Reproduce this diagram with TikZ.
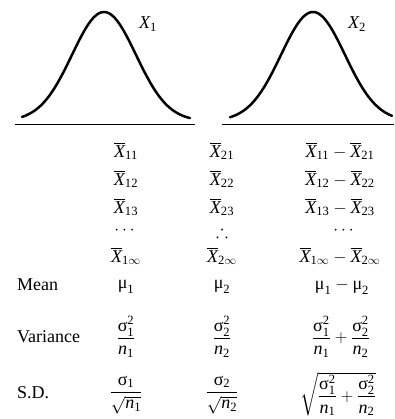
\documentclass[tikz,border=0pt]{standalone}
\usepackage{amsmath,amssymb}
\usepackage{fontspec}
\setmainfont{Liberation Serif}
\newcommand\vX{\text{\itshape X}}
\newcommand\vn{\text{\itshape n}}
\newcommand\mmu{\text{μ}}
\newcommand\ssig{\text{σ}}
\newcommand\xb[1]{\overline{\vX}_{\text{#1}}}
\newcommand\xbi[1]{\overline{\vX}_{\text{#1}\infty}}
\tikzset{
  curve/.style={line width=2.5pt, line cap=round},
  axis/.style={line width=1pt},
  txt/.style={inner sep=0pt, font=\fontsize{18}{21}\selectfont},
  lab/.style={txt, anchor=west},
  cell/.style={txt, anchor=center},
}
\begin{document}
\begin{tikzpicture}[x=1pt,y=-1pt]
\useasboundingbox (0,0) rectangle (394,419);
% curves
\draw[curve] plot[domain=22:190, samples=120, smooth] (\x, {121 - 109*exp(-((\x-104)^2)/2048)});
\draw[curve] plot[domain=230:392, samples=120, smooth] (\x, {121 - 109*exp(-((\x-313)^2)/2048)});
\coordinate (b1l) at (15,125); \coordinate (b1r) at (195,125);
\coordinate (b2l) at (222,125); \coordinate (b2r) at (394,125);
\draw[axis] (b1l) -- (b1r);
\draw[axis] (b2l) -- (b2r);
\node[txt] (lx1) at (148,24) {$\vX_{\text{1}}$};
\node[txt] (lx2) at (357,24) {$\vX_{\text{2}}$};
% sample means
\node[cell] (a1) at (126,151) {$\xb{11}$};
\node[cell] (b1) at (222,151) {$\xb{21}$};
\node[cell] (c1) at (340,151) {$\xb{11}-\xb{21}$};
\node[cell] (a2) at (126,179) {$\xb{12}$};
\node[cell] (b2) at (222,179) {$\xb{22}$};
\node[cell] (c2) at (340,179) {$\xb{12}-\xb{22}$};
\node[cell] (a3) at (126,207) {$\xb{13}$};
\node[cell] (b3) at (222,207) {$\xb{23}$};
\node[cell] (c3) at (340,207) {$\xb{13}-\xb{23}$};
\node[cell] (a4) at (126,231) {$\cdots$};
\node[cell] (b4) at (222,231) {$\therefore$};
\node[cell] (c4) at (345,231) {$\cdots$};
\node[cell] (a5) at (126,256) {$\xbi{1}$};
\node[cell] (b5) at (222,256) {$\xbi{2}$};
\node[cell] (c5) at (340,256) {$\xbi{1}-\xbi{2}$};
% mean
\node[lab] (lm) at (17,285) {Mean};
\node[cell] (m1) at (126,287) {$\mmu_{\text{1}}$};
\node[cell] (m2) at (222,287) {$\mmu_{\text{2}}$};
\node[cell] (m3) at (342,287) {$\mmu_{\text{1}}-\mmu_{\text{2}}$};
% variance
\node[lab] (lv) at (17,337) {Variance};
\node[cell] (v1) at (126,337) {$\dfrac{\ssig_{\text{1}}^{\text{2}}}{\vn_{\text{1}}}$};
\node[cell] (v2) at (222,337) {$\dfrac{\ssig_{\text{2}}^{\text{2}}}{\vn_{\text{2}}}$};
\node[cell] (v3) at (341,337) {$\dfrac{\ssig_{\text{1}}^{\text{2}}}{\vn_{\text{1}}}+\dfrac{\ssig_{\text{2}}^{\text{2}}}{\vn_{\text{2}}}$};
% s.d.
\node[lab] (ls) at (17,393) {S.D.};
\node[cell] (s1) at (126,395) {$\dfrac{\ssig_{\text{1}}}{\sqrt{\vn_{\text{1}}}}$};
\node[cell] (s2) at (222,395) {$\dfrac{\ssig_{\text{2}}}{\sqrt{\vn_{\text{2}}}}$};
\node[cell] (s3) at (338,394) {$\sqrt{\dfrac{\ssig_{\text{1}}^{\text{2}}}{\vn_{\text{1}}}+\dfrac{\ssig_{\text{2}}^{\text{2}}}{\vn_{\text{2}}}}$};
\end{tikzpicture}
\end{document}
